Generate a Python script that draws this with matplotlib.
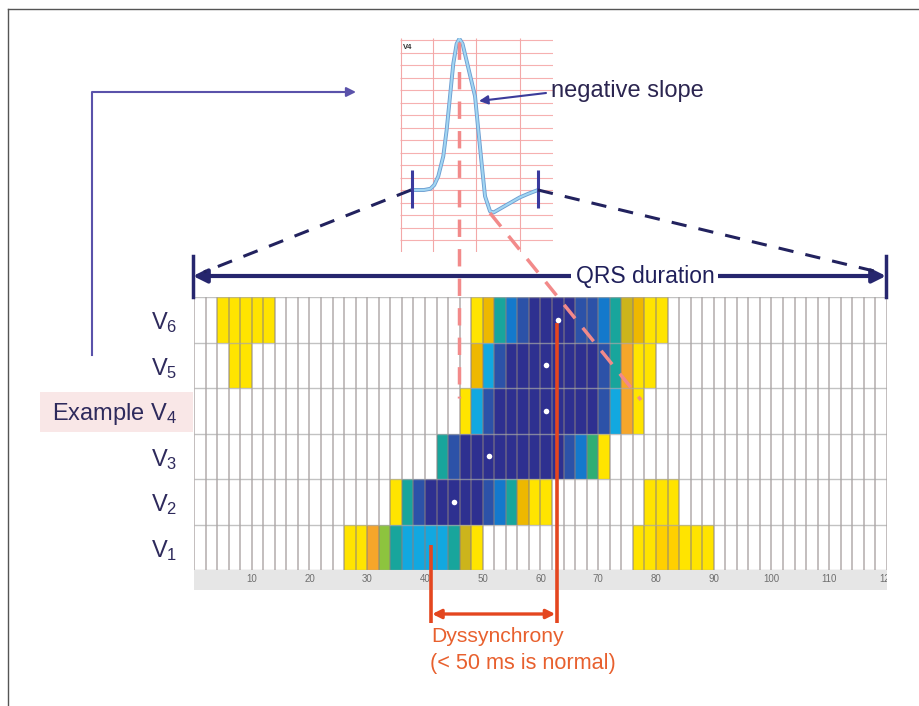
import numpy as np
import matplotlib
matplotlib.use("Agg")
import matplotlib.pyplot as plt
from matplotlib.colors import ListedColormap, BoundaryNorm
from matplotlib.patches import Rectangle, FancyArrowPatch

plt.rcParams['font.family'] = ['Liberation Sans', 'DejaVu Sans']
plt.rcParams['mathtext.fontset'] = 'custom'
plt.rcParams['mathtext.rm'] = 'Liberation Sans'
plt.rcParams['mathtext.it'] = 'Liberation Sans:italic'

# ---------------- data ----------------
lead_labels = ['V$_1$', 'V$_2$', 'V$_3$', 'Example V$_4$', 'V$_5$', 'V$_6$']
bin_ms = 2
qrs_max_ms = 120
# (start time in ms, list of slope-intensity levels per 2 ms bin)
seg_V1 = [(26, [1, 1, 4, 6, 8, 9, 9, 9, 9, 8, 5, 1]), (76, [1, 1, 2, 2, 1, 1, 1])]
seg_V2 = [(34, [1, 8, 11, 12, 12, 12, 12, 12, 11, 10, 8, 3, 1, 1]), (78, [1, 1, 1])]
seg_V3 = [(42, [8, 11, 12, 12, 12, 12, 12, 12, 12, 12, 12, 11, 10, 7, 1])]
seg_V4 = [(46, [1, 9, 11, 12, 12, 12, 12, 12, 12, 12, 12, 12, 11, 9, 4, 1])]
seg_V5 = [(6, [1, 1]), (48, [3, 9, 11, 12, 12, 12, 12, 12, 12, 12, 12, 11, 8, 4, 1, 1])]
seg_V6 = [(4, [1, 1, 1, 1, 1]),
          (48, [1, 3, 8, 10, 11, 12, 12, 12, 12, 11, 11, 10, 8, 5, 3, 1, 1])]
lead_segments = [seg_V1, seg_V2, seg_V3, seg_V4, seg_V5, seg_V6]
# time of steepest negative slope per lead (V1 has none marked)
peak_rows = [1, 2, 3, 4, 5]
peak_ms = [45, 51, 61, 61, 63]
dys_start_ms = 41
dys_end_ms = 62.8
x_ticks = [10, 20, 30, 40, 50, 60, 70, 80, 90, 100, 110, 120]
x_ticklabels = ['10', '20', '30', '40', '50', '60', '70', '80', '90', '100', '110', '120']

level_colors = ['#ffe400', '#ffd000', '#eeb800', '#f6a62a', '#ccb41c', '#8dc43e',
                '#30ae74', '#18a59c', '#12a8e0', '#1479cc', '#2c52a8', '#2e3090']

# ECG inset (ms, mV)
ecg_t = [10.5, 22, 28, 31.5, 35.2, 39.8, 42.9, 46, 49, 52.1, 54.6, 57.5, 61.9, 69,
         72, 75.1, 78.2, 82.8, 86, 92, 100, 110, 118, 126.9]
ecg_mv = [0, 0, 0.01, 0.04, 0.11, 0.27, 0.48, 0.75, 1.01, 1.17, 1.21, 1.17, 1.01, 0.75,
          0.48, 0.21, -0.05, -0.17, -0.18, -0.15, -0.11, -0.06, -0.03, 0.0]
qrs_on_ms = 10.6
qrs_off_ms = 126.9

# ---------------- figure ----------------
W, H = 920, 706
fig = plt.figure(figsize=(W / 100, H / 100), dpi=100)
fig.patch.set_facecolor('white')

def fx(px):
    return px / W

def fy(py):
    return 1 - py / H

# background axes (pixel coords)
bg = fig.add_axes([0, 0, 1, 1], zorder=0)
bg.set_xlim(0, W); bg.set_ylim(H, 0); bg.axis('off')
bg.add_patch(Rectangle((40, 392), 153, 40, fc='#f9e7e7', ec='none'))

# heatmap axes
L, R, T, B = 194, 887, 297, 570
ax = fig.add_axes([fx(L), fy(B), fx(R) - fx(L), (B - T) / H], zorder=1)
ax.patch.set_alpha(0)
n_bins = qrs_max_ms // bin_ms
M = np.zeros((len(lead_segments), n_bins))
for r, segs in enumerate(lead_segments):
    for start, lv in segs:
        i0 = start // bin_ms
        M[r, i0:i0 + len(lv)] = lv
Mm = np.ma.masked_equal(M, 0)
cmap = ListedColormap(level_colors)
norm = BoundaryNorm(np.arange(0.5, len(level_colors) + 1.5, 1), cmap.N)
xe = np.arange(0, qrs_max_ms + bin_ms, bin_ms)
ye = np.arange(len(lead_segments) + 1)
ax.pcolormesh(xe, ye, Mm, cmap=cmap, norm=norm, zorder=1)
ax.vlines(xe, 0, len(lead_segments), color='#8a8080', lw=1.3, alpha=0.55, zorder=2)
ax.hlines(ye, 0, qrs_max_ms, color='#a8a8a8', lw=1.0, alpha=0.7, zorder=2)
ax.set_xlim(0, qrs_max_ms)
ax.set_ylim(0, len(lead_segments))
for s in ax.spines.values():
    s.set_visible(False)
ax.set_yticks(np.arange(len(lead_segments)) + 0.5)
ax.set_yticklabels(lead_labels, fontsize=17, color='#2e2a5c')
ax.tick_params(axis='y', length=0, pad=12)
ax.set_xticks(x_ticks)
ax.set_xticklabels(x_ticklabels, fontsize=7, color='#6f6f6f')
ax.tick_params(axis='x', length=0, pad=3.2)
band_h = 20 / (B - T)
band = Rectangle((0, -band_h), 1, band_h, transform=ax.transAxes, clip_on=False,
                 fc='#e6e6e6', ec='none', zorder=0)
ax.add_patch(band)
for lab in ax.get_xticklabels():
    lab.set_clip_path(band)

# peak dots
ax.scatter(peak_ms, np.array(peak_rows) + 0.5, s=16, color='white', zorder=5,
           linewidths=0)

# dyssynchrony markers
px_per_row = (B - T) / len(lead_segments)
y_bottom = -(623 - B) / px_per_row
y_arrow = -(614 - B) / px_per_row
red = '#e4461f'
ax.plot([dys_start_ms, dys_start_ms], [0.55, y_bottom], color=red, lw=2.6,
        clip_on=False, zorder=4, solid_capstyle='butt')
ax.plot([dys_end_ms, dys_end_ms], [5.42, y_bottom], color=red, lw=2.6,
        clip_on=False, zorder=4, solid_capstyle='butt')
ax.add_patch(FancyArrowPatch((dys_start_ms, y_arrow), (dys_end_ms, y_arrow),
                             arrowstyle='<|-|>', mutation_scale=13, lw=2.4,
                             color=red, clip_on=False, zorder=4,
                             shrinkA=1, shrinkB=1))

# ECG inset
ex0, ex1, ey0, ey1 = 400, 553, 38, 252
ins = fig.add_axes([fx(ex0), fy(ey1), fx(ex1) - fx(ex0), (ey1 - ey0) / H], zorder=4)
ins.patch.set_alpha(0)
ins.set_xlim(0, 140.7)
ins.set_ylim(-0.496, 1.216)
for s in ins.spines.values():
    s.set_visible(False)
ins.set_xticks([]); ins.set_yticks([])
ins.hlines(np.arange(-0.4, 1.25, 0.1), 0, 140.7, color='#f6b0b0', lw=0.8)
ins.vlines([0.5, 30, 70, 110], -0.496, 1.216, color='#f3a8a8', lw=0.8)
ins.plot(ecg_t, ecg_mv, color='#6d9fd2', lw=2.8, solid_capstyle='round')
ins.plot(ecg_t, ecg_mv, color='#a2d6f2', lw=1.5, solid_capstyle='round')
ins.vlines([qrs_on_ms, qrs_off_ms], -0.144, 0.16, color='#3a3a9e', lw=2.2)
ins.text(3, 1.14, 'V4', fontsize=5.5, fontweight='bold', color='#333333',
         ha='left', va='center')

# overlay axes (pixel coords)
ov = fig.add_axes([0, 0, 1, 1], zorder=5)
ov.set_xlim(0, W); ov.set_ylim(H, 0); ov.axis('off')
ov.patch.set_alpha(0)
# frame
ov.plot([8, W], [9, 9], color='#555555', lw=1)
ov.plot([8, 8], [9, H], color='#555555', lw=1)
# left pointer
purple = '#5a52aa'
ov.plot([92, 92, 340], [355, 92, 92], color=purple, lw=1.5)
ov.add_patch(FancyArrowPatch((330, 92), (356, 92), arrowstyle='-|>', mutation_scale=14,
                             lw=1.5, color=purple, shrinkA=0, shrinkB=0))
# navy dashed connectors
navy = '#22225e'
ov.plot([411, 204], [190, 272], color=navy, lw=2.2, dashes=(5, 4))
ov.plot([538, 878], [190, 272], color=navy, lw=2.2, dashes=(5, 4))
# QRS arrow
qnavy = '#26266e'
ov.add_patch(FancyArrowPatch((193, 276), (886, 276), arrowstyle='<|-|>',
                             mutation_scale=20, lw=3, color=qnavy, shrinkA=0, shrinkB=0))
ov.plot([193, 193], [256, 297], color=qnavy, lw=2.5)
ov.plot([886, 886], [256, 297], color=qnavy, lw=2.5)
ov.text(645, 276, 'QRS duration', fontsize=16.5, color='#1f1f5a', ha='center',
        va='center', bbox=dict(fc='white', ec='none', pad=3))
# pink dashed guides
pink = '#f28a8a'
ov.plot([459.4, 459.4], [42, 398], color=pink, lw=2.5, dashes=(5, 3.5))
ov.plot([490, 641], [213, 400], color=pink, lw=2.5, dashes=(5, 3.5))
# negative slope label
ov.text(551, 91, 'negative slope', fontsize=17, color='#2b2550', ha='left', va='center')
ov.add_patch(FancyArrowPatch((546, 93), (479, 101), arrowstyle='-|>', mutation_scale=13,
                             lw=1.5, color='#3b3b9a', shrinkA=0, shrinkB=0))
# dyssynchrony label
ov.text(431, 636, 'Dyssynchrony', fontsize=15.2, color='#e8602e', ha='left', va='center')
ov.text(430, 663, '(< 50 ms is normal)', fontsize=15.6, color='#e8602e', ha='left',
        va='center')

fig.savefig('out.png', dpi=100)
